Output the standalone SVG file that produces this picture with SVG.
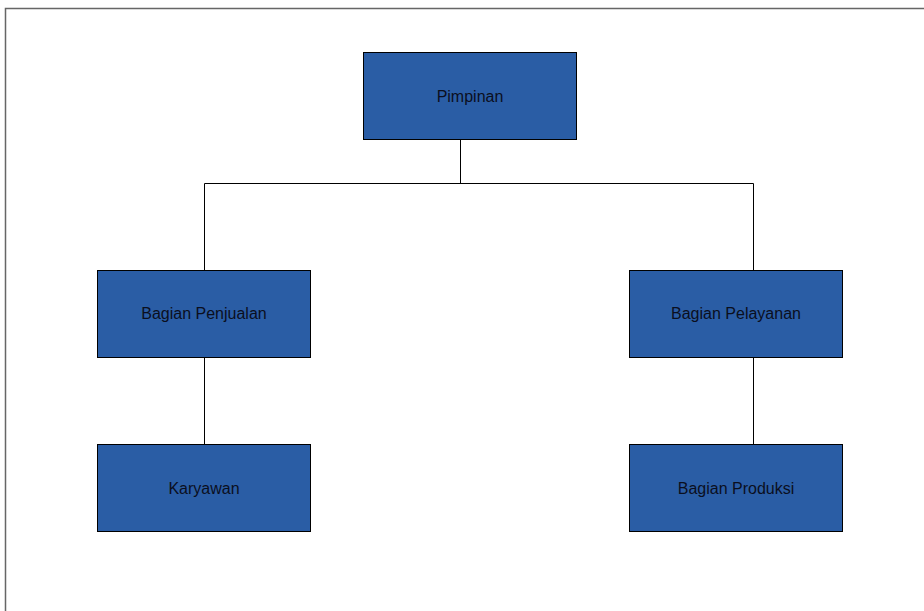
<svg xmlns="http://www.w3.org/2000/svg" width="924" height="611" viewBox="0 0 924 611">
<style>
.box{fill:#2a5da5;stroke:#000;stroke-width:1}
.lbl{font-family:"Liberation Sans",Arial,sans-serif;font-size:16px;fill:#0a0f1e;text-anchor:middle;dominant-baseline:central}
.ln{stroke:#000;stroke-width:1;fill:none}
</style>
<rect x="0" y="0" width="924" height="611" fill="#fff"/>
<path d="M5.5,611 V8.5 H924" fill="none" stroke="#666" stroke-width="1.5"/>
<g id="connectors">
<path class="ln" d="M460.5,139 V183.5 M204.5,183.5 H753.5 M204.5,183.5 V270 M753.5,183.5 V270 M204.5,357 V444 M753.5,357 V444"/>
</g>
<g id="pimpinan"><rect class="box" x="363.5" y="52.5" width="213" height="87"/><text class="lbl" x="470" y="96">Pimpinan</text></g>
<g id="penjualan"><rect class="box" x="97.5" y="270.5" width="213" height="87"/><text class="lbl" x="204" y="313">Bagian Penjualan</text></g>
<g id="pelayanan"><rect class="box" x="629.5" y="270.5" width="213" height="87"/><text class="lbl" x="736" y="313">Bagian Pelayanan</text></g>
<g id="karyawan"><rect class="box" x="97.5" y="444.5" width="213" height="87"/><text class="lbl" x="204" y="488">Karyawan</text></g>
<g id="produksi"><rect class="box" x="629.5" y="444.5" width="213" height="87"/><text class="lbl" x="736" y="488">Bagian Produksi</text></g>
</svg>
